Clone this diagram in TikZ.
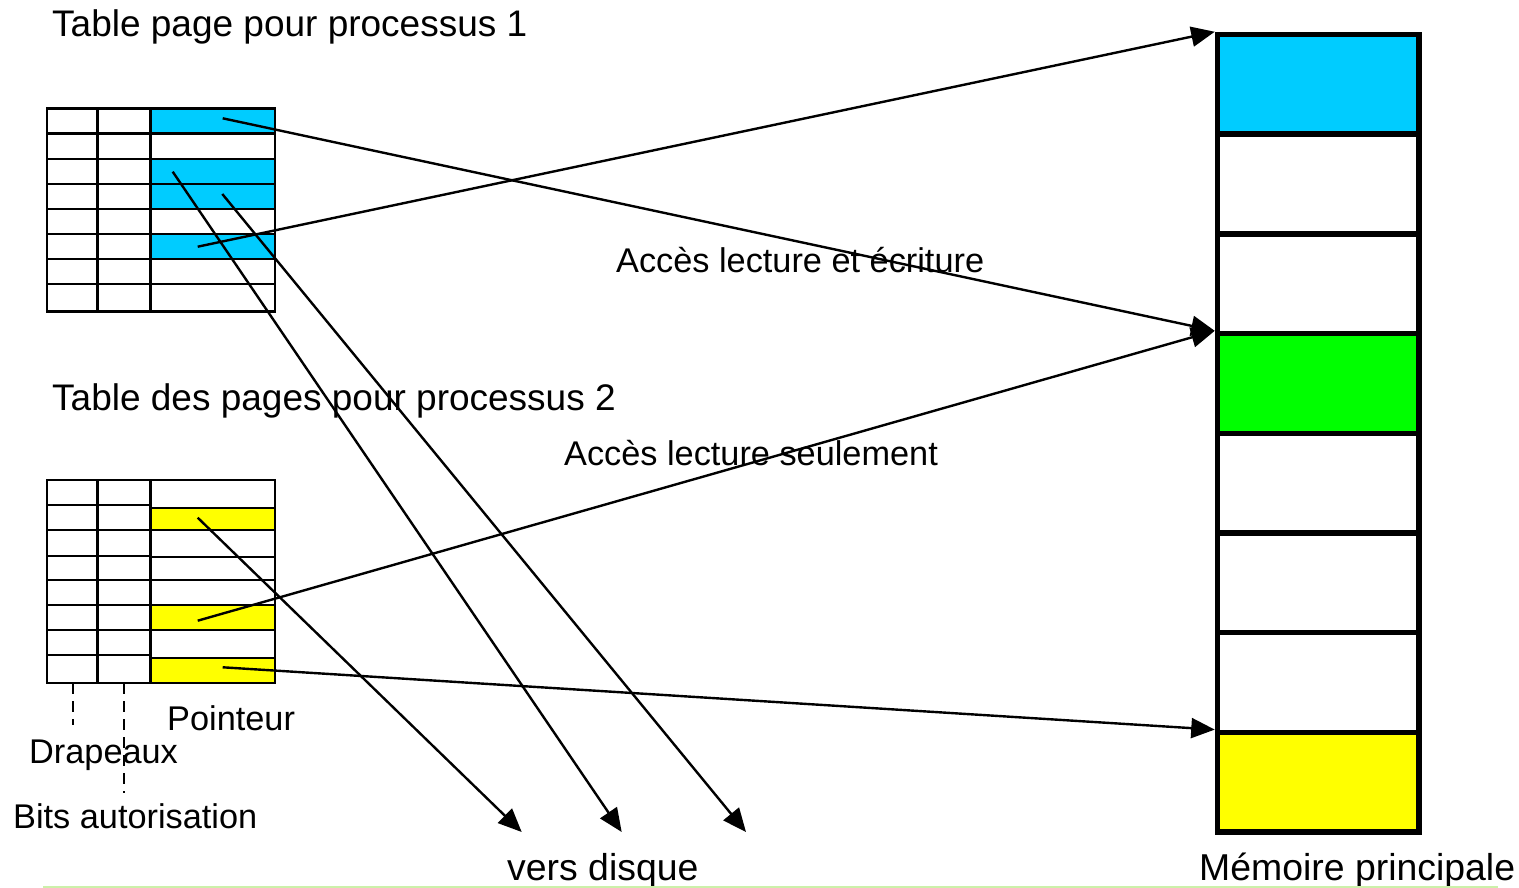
\documentclass[tikz,border=0pt]{standalone}
\usepackage{fontspec}
\setmainfont{Liberation Sans}
\usetikzlibrary{arrows.meta}

\definecolor{procblue}{RGB}{0,204,255}
\definecolor{procgreen}{RGB}{0,255,0}
\definecolor{procyellow}{RGB}{255,255,0}
\definecolor{rulegreen}{RGB}{204,240,170}

\tikzset{
  tabline/.style={line width=2.5pt, line cap=rect},
  memcell/.style={draw, line width=5.5pt, minimum width=201.5pt, minimum height=99.69pt, inner sep=0pt, fill=white},
  ptr/.style={line width=2.4pt, -{Triangle[length=23.5pt,width=20pt]}},
  flagline/.style={line width=2.6pt, dash pattern=on 11pt off 7pt},
  title/.style={anchor=base west, inner sep=0pt, font=\fontsize{37pt}{40pt}\selectfont},
  label/.style={anchor=base west, inner sep=0pt, font=\fontsize{34.3pt}{38pt}\selectfont},
  biglabel/.style={anchor=base west, inner sep=0pt, font=\fontsize{37.4pt}{40pt}\selectfont}
}

\begin{document}
\begin{tikzpicture}[x=1pt,y=-1pt]
\useasboundingbox (0,0) rectangle (1519,888);

% ---- page table of process 1 ----
\foreach \a/\b in {108.5/133.5, 159/184, 184/209, 234/259}
  \fill[procblue] (150.5,\a) rectangle (275,\b);
\foreach \y in {108.5,133.5,159,184,209,234,259,284,311.5}
  \draw[tabline] (47,\y) -- (275,\y);
\foreach \x in {47,97.5,150.5,275}
  \draw[tabline] (\x,108.5) -- (\x,311.5);

% ---- page table of process 2 ----
\foreach \a/\b in {508/530, 605/630, 658/683}
  \fill[procyellow] (150.5,\a) rectangle (275,\b);
\foreach \y in {480,505,530,556,580,605,630,655,683}
  \draw[tabline] (47,\y) -- (150.5,\y);
\foreach \y in {480,508,530,557,580,605,630,658,683}
  \draw[tabline] (150.5,\y) -- (275,\y);
\foreach \x in {47,97.5,150.5,275}
  \draw[tabline] (\x,480) -- (\x,683);

% flag / permission columns pointing to their labels
\coordinate (flagtop) at (73,683);
\coordinate (flagend) at (73,725);
\coordinate (permtop) at (124,683);
\coordinate (permend) at (124,793);
\draw[flagline] (flagtop) -- (flagend);
\draw[flagline] (permtop) -- (permend);

% ---- main memory ----
\node[memcell, fill=procblue]   (m1) at (1318.25, 84.35) {};
\node[memcell]                  (m2) at (1318.25,184.04) {};
\node[memcell]                  (m3) at (1318.25,283.73) {};
\node[memcell, fill=procgreen]  (m4) at (1318.25,383.42) {};
\node[memcell]                  (m5) at (1318.25,483.11) {};
\node[memcell]                  (m6) at (1318.25,582.80) {};
\node[memcell]                  (m7) at (1318.25,682.49) {};
\node[memcell, fill=procyellow] (m8) at (1318.25,782.18) {};

% ---- texts ----
\node[title] (t1) at (52,37)  {Table page pour processus 1};
\node[title] (t2) at (52,410) {Table des pages pour processus 2};
\node[label] (rw) at (616,272) {Accès lecture et écriture};
\node[label] (ro) at (564,465) {Accès lecture seulement};
\node[label] (pt) at (167,730) {Pointeur};
\node[label] (dr) at (29,763)  {Drapeaux};
\node[label] (ba) at (13,828)  {Bits autorisation};
\node[biglabel] (vd) at (507,880) {vers disque};
\node[biglabel] (mp) at (1199,880) {Mémoire principale};

% ---- pointer starts inside the table entries ----
\coordinate (a1) at (222.7,118.3);
\coordinate (a3) at (172.7,171.7);
\coordinate (a4) at (222.3,194);
\coordinate (a6) at (197.7,246.7);
\coordinate (b2) at (197.7,517.7);
\coordinate (b6) at (197.7,620.7);
\coordinate (b8) at (222.7,667.3);

% ---- swapped-out pages ----
\coordinate (d1) at (521.7,832);
\coordinate (d2) at (621.7,832);
\coordinate (d3) at (746,832);

% ---- pointers ----
\draw[ptr] (a1) -- (m4.north west);
\draw[ptr] (a6) -- (m1.north west);
\draw[ptr] (a3) -- (d2);
\draw[ptr] (a4) -- (d3);
\draw[ptr] (b2) -- (d1);
\draw[ptr] (b6) -- (m4.north west);
\draw[ptr] (b8) -- (m8.north west);

% base rule
\draw[rulegreen, line width=2pt] (43,887) -- (1498,887);
\end{tikzpicture}
\end{document}
